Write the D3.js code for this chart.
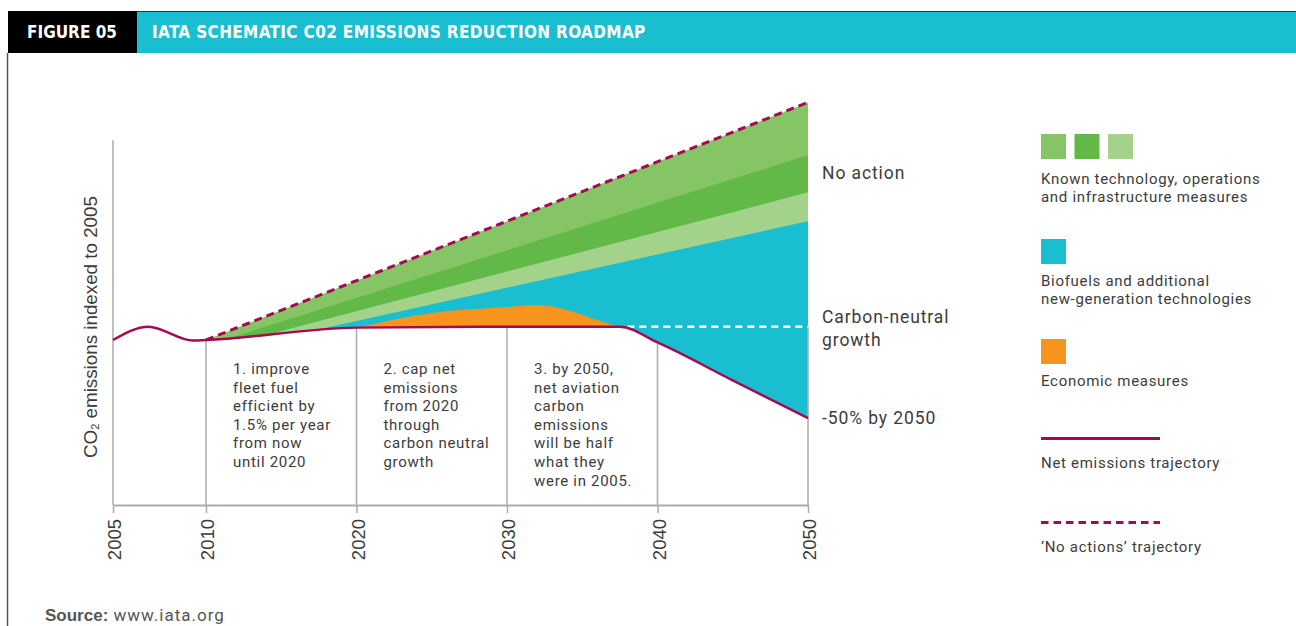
<!DOCTYPE html>
<html>
<head>
<meta charset="utf-8">
<script src="https://cdn.jsdelivr.net/npm/d3@7"></script>
<style>
  body { margin: 0; background: #fff; }
  svg { display: block; }
</style>
</head>
<body>
<svg width="1296" height="626"></svg>
<script>
// ---- data (index, 2005 = 100; schematic values) ----
var tickYears = [2005, 2010, 2020, 2030, 2040, 2050];

var netYears = [2005, 2006.9, 2009.3, 2010, 2020, 2030, 2037.5, 2040, 2045, 2050];
var netValues = [100, 108.1, 99.7, 100, 107.5, 108, 108, 98.5, 75.5, 52.7];

var noActionYears = [2010, 2050];
var noActionValues = [100, 244];

var knownTech1Years = [2011.5, 2050];
var knownTech1Values = [101, 212];
var knownTech2Years = [2014, 2050];
var knownTech2Values = [103, 189.5];
var biofuelYears = [2017, 2050];
var biofuelValues = [105.5, 172];

var economicYears = [2020, 2025, 2030, 2032, 2034, 2036, 2037.5];
var economicValues = [107.5, 116.4, 120, 121.2, 118.2, 112.1, 108];

var neutralYears = [2038, 2050];
var neutralValues = [108, 108];

var annotations = [
  { year: 2010, lines: ["1. improve", "fleet fuel", "efficient by", "1.5% per year", "from now", "until 2020"] },
  { year: 2020, lines: ["2. cap net", "emissions", "from 2020", "through", "carbon neutral", "growth"] },
  { year: 2030, lines: ["3. by 2050,", "net aviation", "carbon", "emissions", "will be half", "what they", "were in 2005."] }
];

var legendItems = [
  { type: "squares", colors: ["#86c566", "#62b947", "#a3d38b"], lines: ["Known technology, operations", "and infrastructure measures"] },
  { type: "squares", colors: ["#19bfd0"], lines: ["Biofuels and additional", "new-generation technologies"] },
  { type: "squares", colors: ["#f7941d"], lines: ["Economic measures"] },
  { type: "line", lines: ["Net emissions trajectory"] },
  { type: "dash", lines: ["\u2018No actions\u2019 trajectory"] }
];

var crimson = "#a5094e",
  gridGrey = "#ababab",
  textGrey = "#3c3c3c",
  bodyFont = "Roboto, 'Noto Sans', sans-serif",
  axisFont = "'Liberation Sans', Arial, sans-serif";

var svg = d3.select("svg");

// ---- header ----
svg.append("rect").attr("x", 8).attr("y", 11).attr("width", 1288).attr("height", 42).attr("fill", "#19bfd0");
svg.append("rect").attr("x", 8).attr("y", 11).attr("width", 129).attr("height", 42).attr("fill", "#000");
svg.append("line").attr("x1", 137).attr("x2", 1296).attr("y1", 11.5).attr("y2", 11.5)
  .attr("stroke", "#163c44").attr("stroke-width", 1);
svg.append("line").attr("x1", 7.5).attr("x2", 7.5).attr("y1", 53).attr("y2", 626)
  .attr("stroke", "#555").attr("stroke-width", 1.5);

var titleFont = "'Liberation Sans Narrow', 'DejaVu Sans Condensed', sans-serif";
svg.append("text").attr("x", 27).attr("y", 38)
  .attr("font-family", titleFont).attr("font-weight", "bold").attr("font-size", 17)
  .attr("fill", "#fff").text("FIGURE 05");
svg.append("text").attr("x", 152).attr("y", 38)
  .attr("font-family", titleFont).attr("font-weight", "bold").attr("font-size", 17)
  .attr("letter-spacing", 0.35)
  .attr("fill", "#fff").text("IATA SCHEMATIC C02 EMISSIONS REDUCTION ROADMAP");

// ---- scales ----
// 2005-2010 segment is drawn wider than the rest in the original
var x = d3.scaleLinear().domain([2005, 2010, 2050]).range([113, 206, 808]);
var y = d3.scaleLinear().domain([0, 100]).range([505, 340]);

function pts(xs, vs) {
  return xs.map((d, i) => [d, vs[i]]);
}
var net = pts(netYears, netValues);

// clip: everything above the net emissions line
var defs = svg.append("defs");
defs.append("clipPath").attr("id", "aboveNet")
  .append("path")
  .attr("d", d3.area().curve(d3.curveMonotoneX)
    .x((d) => x(d[0])).y0(0).y1((d) => y(d[1]))(net));

var bands = svg.append("g").attr("clip-path", "url(#aboveNet)");

function fillUnder(data, color, curve) {
  bands.append("path")
    .attr("d", d3.area().curve(curve || d3.curveLinear)
      .x((d) => x(d[0])).y0(y(0)).y1((d) => y(d[1]))(data))
    .attr("fill", color);
}
fillUnder(pts(noActionYears, noActionValues), "#86c566");
fillUnder(pts(knownTech1Years, knownTech1Values), "#62b947");
fillUnder(pts(knownTech2Years, knownTech2Values), "#a3d38b");
fillUnder(pts(biofuelYears, biofuelValues), "#19bfd0");
fillUnder(pts(economicYears, economicValues), "#f7941d", d3.curveMonotoneX);

// ---- grid lines under the net line ----
var grid = svg.append("g").attr("stroke", gridGrey).attr("stroke-width", 1.5);
tickYears.slice(1).forEach((yr) => {
  var i = netYears.indexOf(yr);
  var top = yr === 2050 ? neutralValues[1] : netValues[i];
  grid.append("line").attr("x1", x(yr)).attr("x2", x(yr)).attr("y1", y(top)).attr("y2", y(0));
});

// y axis line
svg.append("line").attr("x1", x(2005)).attr("x2", x(2005)).attr("y1", y(221)).attr("y2", y(0))
  .attr("stroke", gridGrey).attr("stroke-width", 1.5);

// x axis
var axisX = d3.axisBottom(x).tickValues(tickYears).tickFormat(d3.format("d"))
  .tickSize(8).tickSizeOuter(0);
var gx = svg.append("g").attr("transform", "translate(0," + y(0) + ")").call(axisX);
gx.select(".domain").attr("stroke", gridGrey).attr("stroke-width", 2);
gx.selectAll(".tick line").attr("stroke", gridGrey).attr("stroke-width", 1.5);
gx.selectAll(".tick text")
  .attr("font-family", axisFont).attr("font-size", 18.5).attr("fill", textGrey)
  .attr("text-anchor", "end").attr("y", 0).attr("dy", "0.36em")
  .attr("transform", "translate(1,14) rotate(-90)");

// y axis label
var yl = svg.append("text")
  .attr("transform", "translate(96.5," + 327 + ") rotate(-90)")
  .attr("text-anchor", "middle")
  .attr("font-family", axisFont).attr("font-size", 18.8).attr("fill", textGrey);
yl.append("tspan").text("CO");
yl.append("tspan").attr("font-size", 11).attr("dy", 2).text("2");
yl.append("tspan").attr("dy", -2).text(" emissions indexed to 2005");

// ---- lines ----
var line = d3.line().x((d) => x(d[0])).y((d) => y(d[1]));

svg.append("path")
  .attr("d", line(pts(neutralYears, neutralValues)))
  .attr("fill", "none").attr("stroke", "#fff").attr("stroke-width", 2.5)
  .attr("stroke-dasharray", "7,5");

svg.append("path")
  .attr("d", line(pts(noActionYears, noActionValues)))
  .attr("fill", "none").attr("stroke", crimson).attr("stroke-width", 3)
  .attr("stroke-dasharray", "8,5");

svg.append("path")
  .attr("d", line.curve(d3.curveMonotoneX)(net))
  .attr("fill", "none").attr("stroke", crimson).attr("stroke-width", 2.5);

// ---- annotations ----
annotations.forEach((a) => {
  var t = svg.append("text")
    .attr("font-family", bodyFont).attr("font-size", 15).attr("letter-spacing", 0.7)
    .attr("fill", textGrey);
  a.lines.forEach((ln, i) => {
    t.append("tspan").attr("x", x(a.year) + 27).attr("y", 374 + i * 18.6).text(ln);
  });
});

// right-hand labels
var rightLabels = [
  { text: "No action", y: 179 },
  { text: "Carbon-neutral", y: 323 },
  { text: "growth", y: 346 },
  { text: "-50% by 2050", y: 424 }
];
svg.selectAll(".rlabel").data(rightLabels).enter().append("text")
  .attr("x", 822).attr("y", (d) => d.y)
  .attr("font-family", bodyFont).attr("font-size", 17.5).attr("letter-spacing", 0.9)
  .attr("fill", textGrey)
  .text((d) => d.text);

// ---- legend ----
var legendTops = [134, 239, 339, 437, 521];
var legendTextY = [183.5, 285.5, 385.5, 468, 552];
var lg = svg.append("g").attr("transform", "translate(1041,0)");
legendItems.forEach((item, k) => {
  var top = legendTops[k];
  if (item.type === "squares") {
    item.colors.forEach((c, i) => {
      lg.append("rect").attr("x", i * 33.5).attr("y", top).attr("width", 25).attr("height", 25).attr("fill", c);
    });
  } else {
    lg.append("line").attr("x1", 0).attr("x2", 119).attr("y1", top + 1.5).attr("y2", top + 1.5)
      .attr("stroke", crimson).attr("stroke-width", 3)
      .attr("stroke-dasharray", item.type === "dash" ? "7.5,5" : null);
  }
  var t = lg.append("text").attr("font-family", bodyFont).attr("font-size", 15)
    .attr("letter-spacing", 0.7).attr("fill", textGrey);
  item.lines.forEach((ln, i) => {
    t.append("tspan").attr("x", 0).attr("y", legendTextY[k] + i * 18.5).text(ln);
  });
});

// ---- source ----
var src = svg.append("text").attr("x", 45).attr("y", 621)
  .attr("font-size", 17).attr("fill", "#555");
src.append("tspan").attr("font-family", axisFont).attr("font-weight", "bold").text("Source:");
src.append("tspan").attr("font-family", bodyFont).attr("letter-spacing", 1).text(" www.iata.org");
</script>
</body>
</html>
